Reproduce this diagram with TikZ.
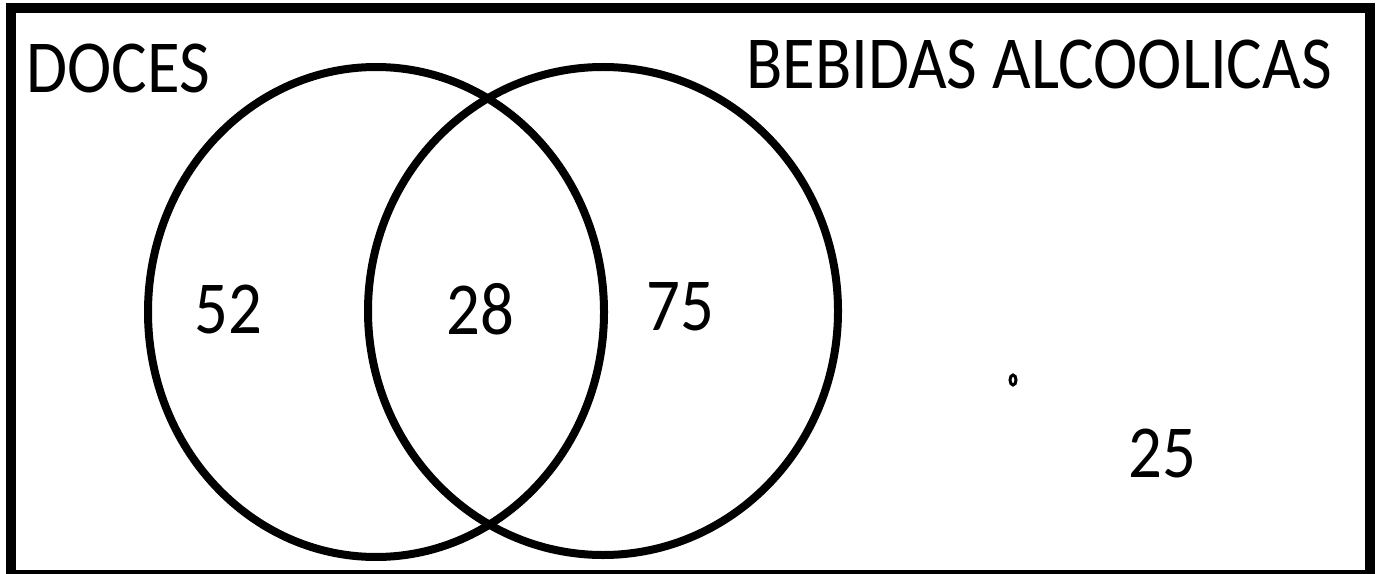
\documentclass[tikz,border=0pt]{standalone}
\usepackage{fontspec}
\setmainfont{Carlito}
\usetikzlibrary{shapes.geometric}
\newcommand{\alto}[1]{\scalebox{1}[1.12]{#1}}

\begin{document}
\begin{tikzpicture}[
  x=0.02cm, y=-0.02cm,
  conjunto/.style={ellipse, draw, line width=0.16cm, inner sep=0pt},
  rotulo/.style={font=\fontsize{38}{40}\selectfont, inner sep=0pt},
  numero/.style={font=\fontsize{38}{40}\selectfont, inner sep=0pt},
]
  \useasboundingbox (0,0) rectangle (1378,574);
  % universo
  \draw[line width=0.2cm] (11,8.5) rectangle (1370,575);
  % conjuntos
  \node[conjunto, minimum width=456*0.02cm, minimum height=490*0.02cm] (doces) at (376,312) {};
  \node[conjunto, minimum width=470*0.02cm, minimum height=488*0.02cm] (bebidas) at (603,311) {};
  \node[rotulo] (tdoces) at (118,68) {\alto{DOCES}};
  \node[rotulo] (tbebidas) at (1039,64) {\alto{BEBIDAS ALCOOLICAS}};
  % valores
  \node[numero] (n52) at (228,309) {\alto{52}};
  \node[numero] (n28) at (480,309) {\alto{28}};
  \node[numero] (n75) at (680,307) {\alto{75}};
  \node[numero] (n25) at (1162,453) {\alto{25}};
  \draw[line width=0.06cm] (1013,380) ellipse (3 and 5);
\end{tikzpicture}
\end{document}
